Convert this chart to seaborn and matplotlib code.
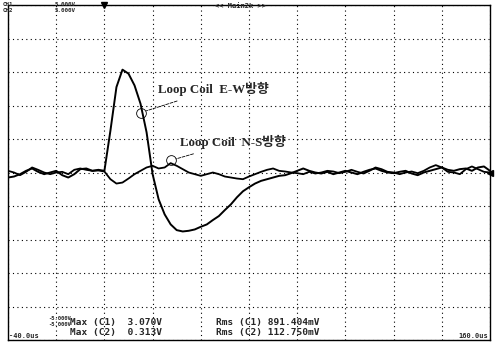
"""
Oscilloscope capture of loop coil pulses (E-W and N-S) redrawn with seaborn.
"""

import matplotlib
matplotlib.use('Agg')
import matplotlib.pyplot as plt
import numpy as np
import pandas as pd
import seaborn as sns

# sample times in microseconds, 2.5 us step
time_us = np.arange(-40.0, 162.5, 2.5)

# channel 1: Loop Coil E-W (volts)
ew_volts = [
    -0.15, -0.12, -0.05, 0.05, 0.12, 0.02, -0.05, 0.00, 0.05, -0.08,
    -0.15, -0.05, 0.10, 0.12, 0.05, 0.08,
    0.05, 1.25, 2.55, 3.07, 2.95, 2.60, 2.05, 1.20, -0.05, -0.80,
    -1.25, -1.55, -1.72, -1.76, -1.74, -1.70, -1.62, -1.55, -1.42, -1.30,
    -1.12, -0.95, -0.74, -0.56, -0.44, -0.33, -0.25, -0.20, -0.15, -0.10,
    -0.08, -0.02, 0.05, 0.12, 0.05, 0.00, -0.03, 0.02, -0.05, 0.00,
    0.05, 0.00, -0.05, 0.02, 0.08, 0.12, 0.05, 0.00, -0.02, 0.02,
    0.05, -0.03, -0.08, 0.00, 0.05, 0.10, 0.15, 0.08, 0.05, 0.10,
    0.12, 0.05, 0.15, 0.18, 0.05,
]

# channel 2: Loop Coil N-S (volts)
ns_volts = [
    0.05, 0.00, -0.08, 0.02, 0.15, 0.08, 0.00, -0.05, 0.00, 0.02,
    -0.05, 0.08, 0.12, 0.08, 0.05, 0.06,
    0.03, -0.20, -0.33, -0.30, -0.18, -0.05, 0.05, 0.15, 0.20, 0.12,
    0.15, 0.28, 0.20, 0.10, 0.00, -0.05, -0.10, -0.05, 0.00, -0.05,
    -0.12, -0.15, -0.18, -0.20, -0.12, -0.05, 0.02, 0.08, 0.12, 0.05,
    0.03, 0.00, -0.02, -0.05, 0.02, -0.03, 0.00, 0.05, 0.03, -0.02,
    0.02, 0.08, 0.02, -0.03, 0.05, 0.15, 0.10, 0.02, 0.00, -0.05,
    0.00, 0.03, -0.02, 0.05, 0.15, 0.22, 0.15, 0.02, 0.00, -0.05,
    0.10, 0.18, 0.10, 0.02, 0.00,
]

channel_labels = ['CH1', 'CH2']
volts_per_div_labels = ['5.000V', '5.000V']
measure_lines = [
    ('Max (C1)  3.070V', 'Rms (C1) 891.404mV'),
    ('Max (C2)  0.313V', 'Rms (C2) 112.750mV'),
]
ew_label = 'Loop Coil  E-W방향'
ns_label = 'Loop Coil  N-S방향'

sns.set_style('white')
plt.rcParams['font.family'] = ['DejaVu Sans', 'Noto Sans CJK KR']

fig = plt.figure(figsize=(4.98, 3.43), dpi=100)
ax = fig.add_axes([8 / 498, 3 / 343, 482 / 498, 335 / 343])

df = pd.DataFrame({'time': time_us, 'ew': ew_volts, 'ns': ns_volts})
sns.lineplot(data=df, x='time', y='ns', color='black', linewidth=1.3, ax=ax)
sns.lineplot(data=df, x='time', y='ew', color='black', linewidth=1.4, ax=ax)

ax.set_xlim(-40, 160)
ax.set_ylim(-5, 5)
ax.set_xticks(np.arange(-40, 161, 20))
ax.set_yticks(np.arange(-5, 6, 1))
ax.grid(True, linestyle=(0, (1, 3)), color='black', linewidth=0.8)
ax.tick_params(length=0, labelbottom=False, labelleft=False)
ax.set_xlabel('')
ax.set_ylabel('')
for side in ['left', 'right', 'bottom', 'top']:
    ax.spines[side].set_color('black')
    ax.spines[side].set_linewidth(1.0)

# annotations with small circles on the traces
label_font = dict(family=['Liberation Serif', 'Noto Sans CJK KR'],
                  fontweight='bold', fontsize=9.3)
ax.annotate(ew_label, xy=(15.2, 1.79), xytext=(22.2, 2.48),
            ha='left', va='center', **label_font,
            arrowprops=dict(arrowstyle='-', linestyle='--', linewidth=0.6,
                            color='black', shrinkA=3, shrinkB=4))
ax.plot([15.2], [1.79], marker='o', markersize=7, markerfacecolor='none',
        markeredgecolor='black', markeredgewidth=0.6, linestyle='none')
ax.annotate(ns_label, xy=(27.5, 0.36), xytext=(31.4, 0.9),
            ha='left', va='center', **label_font,
            arrowprops=dict(arrowstyle='-', linestyle='--', linewidth=0.6,
                            color='black', shrinkA=3, shrinkB=4))
ax.plot([27.5], [0.36], marker='o', markersize=7, markerfacecolor='none',
        markeredgecolor='black', markeredgewidth=0.6, linestyle='none')

# scope screen texts
mono = dict(family='DejaVu Sans Mono', fontweight='bold', fontsize=4.2,
            transform=fig.transFigure)
fig.text(3 / 498, 1 - 5 / 343, channel_labels[0], va='center', **mono)
fig.text(3 / 498, 1 - 11 / 343, channel_labels[1], va='center', **mono)
fig.text(55 / 498, 1 - 5 / 343, volts_per_div_labels[0], va='center', **mono)
fig.text(55 / 498, 1 - 11 / 343, volts_per_div_labels[1], va='center', **mono)
fig.text(240 / 498, 1 - 6 / 343, '<< Main2k >>', ha='center', va='center',
         family='DejaVu Sans Mono', fontweight='bold', fontsize=5,
         transform=fig.transFigure)
fig.text(48 / 498, 1 - 319 / 343, '-5.000V', va='center', fontsize=4, family='DejaVu Sans Mono',
         fontweight='bold', transform=fig.transFigure)
fig.text(48 / 498, 1 - 325 / 343, '-5.000V', va='center', fontsize=4, family='DejaVu Sans Mono',
         fontweight='bold', transform=fig.transFigure)

meas = dict(family='DejaVu Sans Mono', fontweight='bold', fontsize=6.8,
            transform=fig.transFigure, va='center')
fig.text(70 / 498, 1 - 322 / 343, measure_lines[0][0], **meas)
fig.text(70 / 498, 1 - 333 / 343, measure_lines[1][0], **meas)
fig.text(216 / 498, 1 - 322 / 343, measure_lines[0][1], **meas)
fig.text(216 / 498, 1 - 333 / 343, measure_lines[1][1], **meas)
fig.text(9 / 498, 1 - 336 / 343, '-40.0us', fontsize=5, family='DejaVu Sans Mono',
         fontweight='bold', va='center', transform=fig.transFigure)
fig.text(488 / 498, 1 - 336 / 343, '160.0us', fontsize=5, family='DejaVu Sans Mono',
         fontweight='bold', va='center', ha='right', transform=fig.transFigure)

# trigger and ground markers
ax.plot([0], [5], marker='v', markersize=5, color='black', clip_on=False)
ax.plot([160], [0], marker='<', markersize=5, color='black', clip_on=False)

fig.savefig('out.png', dpi=100)
